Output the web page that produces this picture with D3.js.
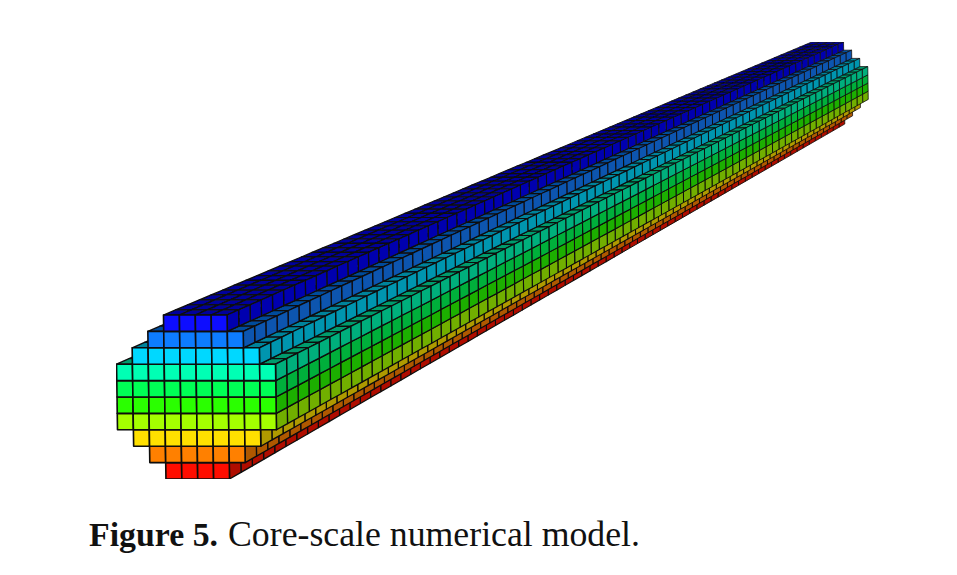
<!DOCTYPE html>
<html>
<head>
<meta charset="utf-8">
<script src="https://cdnjs.cloudflare.com/ajax/libs/d3/7.8.5/d3.min.js"></script>
<style>
  html, body { margin: 0; padding: 0; background: #fff; }
  svg { display: block; }
</style>
</head>
<body>
<div id="chart-area"></div>
<script>
// cross section of the core, top row to bottom row
var rowCells = [4, 6, 8, 10, 10, 10, 10, 8, 6, 4];
var rowColors = ["#0808ff", "#0a7cff", "#00d8ff", "#00ffb4", "#00ff55", "#2cff00", "#a4ff00", "#ffe000", "#ff8000", "#ff1000"];
var layerCount = 74;
var captionBold = "Figure 5.";
var captionText = "Core-scale numerical model.";

var svg = d3.select("#chart-area")
  .append("svg")
    .attr("width", 957)
    .attr("height", 575);

var blur = svg.append("defs").append("filter")
    .attr("id", "soft")
    .attr("x", 0).attr("y", 0).attr("width", 1).attr("height", 1);
blur.append("feGaussianBlur").attr("stdDeviation", 0.45);

// front face scales
var colX = d3.scaleLinear().domain([-5, 5]).range([117, 276]);
var rowY = d3.scaleLinear().domain([0, 10]).range([315, 479]);
// layers shrink towards the vanishing point
var logShrink = d3.scaleLinear().domain([0, layerCount]).range([0, Math.log(0.5)]);
var vanish = [1460, -231];

function project(c, r, k) {
    var s = Math.exp(logShrink(k));
    var fx = colX(c) + 0.015 * (rowY(r) - 396);
    var fy = rowY(r);
    return [vanish[0] + (fx - vanish[0]) * s, vanish[1] + (fy - vanish[1]) * s];
}

var line = d3.line().curve(d3.curveLinearClosed);
var faces = [];

// lower rows first so that the wider rows above cover them
d3.range(rowCells.length - 1, -1, -1).forEach((r) => {
    var half = rowCells[r] / 2;
    var above = r > 0 ? rowCells[r - 1] / 2 : 0;
    var base = d3.color(rowColors[r]);

    d3.range(layerCount - 1, -1, -1).forEach((k) => {
        // top faces, only where the row above does not cover
        d3.range(-half, half).forEach((c) => {
            if (c < -above || c >= above) {
                faces.push({
                    pts: [project(c, r, k), project(c + 1, r, k), project(c + 1, r, k + 1), project(c, r, k + 1)],
                    fill: base.darker(1.4), k: k
                });
            }
        });
        // side face on the right end of the row
        faces.push({
            pts: [project(half, r, k), project(half, r + 1, k), project(half, r + 1, k + 1), project(half, r, k + 1)],
            fill: base.darker(1.05), k: k
        });
    });

    // front faces
    d3.range(-half, half).forEach((c) => {
        faces.push({
            pts: [project(c, r, 0), project(c + 1, r, 0), project(c + 1, r + 1, 0), project(c, r + 1, 0)],
            fill: base, k: 0, front: true
        });
    });
});

var strokeScale = d3.scaleLinear().domain([0, layerCount]).range([1.3, 0.75]);

svg.append("g")
    .attr("filter", "url(#soft)")
    .selectAll("path")
    .data(faces)
    .enter()
    .append("path")
        .attr("d", (d) => line(d.pts))
        .attr("fill", (d) => d.fill)
        .attr("stroke", "#0a0a0a")
        .attr("stroke-linejoin", "round")
        .attr("stroke-width", (d) => d.front ? 1.6 : strokeScale(d.k));

svg.append("text")
    .attr("x", 89)
    .attr("y", 546)
    .attr("font-family", "'Liberation Serif', serif")
    .attr("font-size", 34)
    .attr("font-weight", "bold")
    .attr("textLength", 129)
    .attr("lengthAdjust", "spacingAndGlyphs")
    .attr("fill", "#111")
    .text(captionBold);

svg.append("text")
    .attr("x", 228)
    .attr("y", 546)
    .attr("font-family", "'Liberation Serif', serif")
    .attr("font-size", 35)
    .attr("textLength", 412)
    .attr("lengthAdjust", "spacingAndGlyphs")
    .attr("fill", "#111")
    .text(captionText);
</script>
</body>
</html>
